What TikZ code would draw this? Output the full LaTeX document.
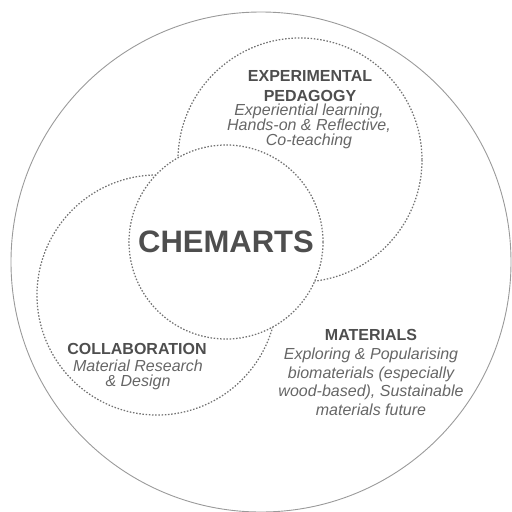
\documentclass[tikz,border=0pt]{standalone}
\usepackage{fontspec}
\setmainfont{Liberation Sans}
\definecolor{hd}{HTML}{4E4E4E}
\definecolor{it}{HTML}{666666}
\definecolor{ln}{HTML}{727272}
\definecolor{ol}{HTML}{9A9A9A}
\tikzset{
  dotcirc/.style={draw=ln, line width=1.25pt, dash pattern=on 1.5pt off 1.7pt},
  head/.style={text=hd, font=\bfseries\fontsize{16}{20}\selectfont, align=center, inner sep=0pt},
  sub/.style={text=it, font=\itshape\fontsize{16}{15}\selectfont, align=center, inner sep=0pt},
}
\begin{document}
\begin{tikzpicture}[x=1pt,y=-1pt]
\useasboundingbox (0,0) rectangle (512,512);
\draw[ol, line width=0.9pt] (261,262) circle[radius=250];
\draw[dotcirc] (300,160) circle[radius=122];
\draw[dotcirc] (157,295) circle[radius=120];
\draw[dotcirc, fill=white] (226,242) circle[radius=97];
\node[text=hd, font=\bfseries\fontsize{31}{31}\selectfont, inner sep=0pt] (chem) at (226,242) {CHEMARTS};
\node[head, anchor=base] (ep) at (310,101) {EXPERIMENTAL\\PEDAGOGY};
\node[sub, anchor=north] (eps) at (309,104) {Experiential learning,\\Hands-on \& Reflective,\\Co-teaching};
\node[head, anchor=base] (col) at (137,354) {COLLABORATION};
\node[sub, anchor=north] (cols) at (138,360) {Material Research\\\& Design};
\node[head, anchor=base] (mat) at (371,340) {MATERIALS};
\node[sub, font=\itshape\fontsize{16}{18.5}\selectfont, anchor=north] (mats) at (371,348) {Exploring \& Popularising\\biomaterials (especially\\wood-based), Sustainable\\materials future};
\end{tikzpicture}
\end{document}
